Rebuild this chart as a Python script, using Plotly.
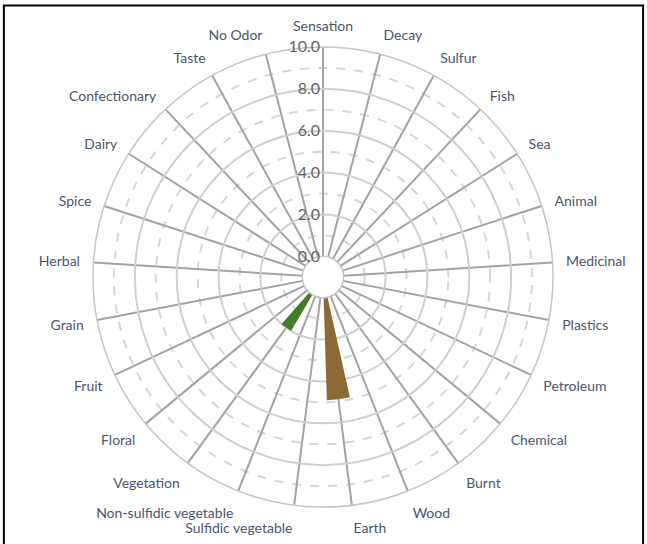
import plotly.graph_objects as go

# odour wheel categories, clockwise from the top
categorias = ["Sensation", "Decay", "Sulfur", "Fish", "Sea", "Animal", "Medicinal",
              "Plastics", "Petroleum", "Chemical", "Burnt", "Wood", "Earth",
              "Sulfidic vegetable", "Non-sulfidic vegetable", "Vegetation", "Floral",
              "Fruit", "Grain", "Herbal", "Spice", "Dairy", "Confectionary", "Taste",
              "No Odor"]

valores = [0, 0, 0, 0, 0, 0, 0, 0, 0, 0, 0, 0, 4.9,
           0, 0, 2.0, 0, 0, 0, 0, 0, 0, 0, 0, 0]

cores_barras = {"Earth": "#8c6a38", "Vegetation": "#3f7d2a"}

ticks_principais = [0, 2, 4, 6, 8, 10]
ticks_secundarios = [1, 3, 5, 7, 9]

cores = [cores_barras.get(c, "rgba(0,0,0,0)") for c in categorias]

fig = go.Figure()

# camada de baixo: circulos tracejados
fig.add_trace(go.Scatterpolar(r=[0] * len(categorias), theta=categorias, mode="markers",
                              marker=dict(size=0, opacity=0), showlegend=False,
                              hoverinfo="skip", subplot="polar"))

# camada de cima: raios, circulos cheios e barras
fig.add_trace(go.Barpolar(r=valores, theta=categorias, marker_color=cores,
                          marker_line_width=0, width=0.75, showlegend=False,
                          subplot="polar2"))

dominio = dict(x=[0.1437, 0.8547], y=[0.068, 0.9136])
fonte = "Lato, 'Open Sans', sans-serif"

fig.update_layout(
    width=647, height=544,
    margin=dict(l=0, r=0, t=0, b=0),
    paper_bgcolor="white",
    polar=dict(
        domain=dominio, hole=0.09, bgcolor="white",
        radialaxis=dict(range=[0, 10], tickvals=ticks_secundarios, showticklabels=False,
                        ticks="", showline=False, gridcolor="#d6d6d6", gridwidth=1.5,
                        griddash="dash"),
        angularaxis=dict(type="category", rotation=90, direction="clockwise",
                         showgrid=False, showticklabels=False, ticks="", showline=False),
    ),
    polar2=dict(
        domain=dominio, hole=0.09, bgcolor="rgba(0,0,0,0)",
        radialaxis=dict(range=[0, 10], tickvals=ticks_principais, tickformat=".1f",
                        angle=90, tickangle=90, side="counterclockwise", ticks="",
                        showline=False, gridcolor="#cfcfcf", gridwidth=1.5,
                        tickfont=dict(family=fonte, size=16, color="#636363")),
        angularaxis=dict(type="category", rotation=90, direction="clockwise",
                         gridcolor="#a3a3a3", gridwidth=2, showline=True,
                         linecolor="#c4c4c4", linewidth=1.5,
                         ticks="outside", ticklen=10, tickcolor="rgba(0,0,0,0)",
                         tickfont=dict(family=fonte, size=14, color="#4a5670")),
    ),
    shapes=[dict(type="rect", xref="paper", yref="paper", x0=0.006, x1=0.994,
                 y0=-0.02, y1=0.99, line=dict(color="black", width=2))],
)

fig.write_html("out.html", config={"displayModeBar": False},
               post_script="document.body.style.margin='0';document.body.style.overflow='hidden';")
